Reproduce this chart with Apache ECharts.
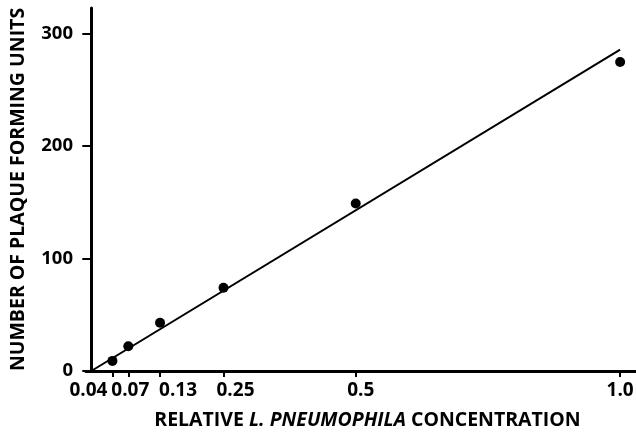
<!DOCTYPE html>
<html>
<head>
<meta charset="utf-8">
<script src="https://cdn.jsdelivr.net/npm/echarts@6/dist/echarts.min.js"></script>
<style>
html,body{margin:0;padding:0;background:#fff;}
#chart{width:636px;height:432px;}
</style>
</head>
<body>
<div id="chart"></div>
<script>
// Data
const concentration = [0.04, 0.07, 0.13, 0.25, 0.5, 1.0];
const plaqueUnits = [9, 22, 43, 74, 149, 275];
const fitX = [0, 1.0];
const fitY = [0, 286];
const xTicks = [0.04, 0.07, 0.13, 0.25, 0.5, 1.0];
const xTickLabels = ['0.04', '0.07', '0.13', '0.25', '0.5', '1.0'];
const yTicks = [0, 100, 200, 300];

// label horizontal offsets (px), styling only
const labelShift = [-24, 2, 18, 12, 5, 0];
const font = 'Open Sans';
const rich = {};
labelShift.forEach((s, i) => {
  rich['s' + i] = {
    fontFamily: font, fontWeight: 'bold', fontSize: 19, color: '#000',
    padding: s >= 0 ? [0, 0, 0, 2 * s] : [0, -2 * s, 0, 0]
  };
});

const chart = echarts.init(document.getElementById('chart'));
chart.setOption({
  animation: false,
  backgroundColor: '#fff',
  grid: { left: 86, right: 0, top: 8, bottom: 61, containLabel: false, outerBoundsMode: 'none' },
  xAxis: {
    type: 'value', min: -0.01, max: 1.03,
    axisLine: { show: true, lineStyle: { color: '#000', width: 3 } },
    axisTick: { show: true, customValues: xTicks, length: 6, lineStyle: { color: '#000', width: 2 } },
    axisLabel: {
      customValues: xTicks, margin: 10, hideOverlap: false,
      formatter: function (v) {
        const i = xTicks.indexOf(v);
        return '{s' + i + '|' + xTickLabels[i] + '}';
      },
      rich: rich
    },
    splitLine: { show: false },
    name: '{n|RELATIVE }{i|L. PNEUMOPHILA}{n| CONCENTRATION}',
    nameLocation: 'middle', nameGap: 39,
    nameTextStyle: {
      padding: [0, 0, 0, 13],
      rich: {
        n: { fontFamily: font, fontWeight: 'bold', fontSize: 19.5, color: '#000' },
        i: { fontFamily: font, fontWeight: 'bold', fontStyle: 'italic', fontSize: 19.5, color: '#000' }
      }
    }
  },
  yAxis: {
    type: 'value', min: 0, max: 323,
    axisLine: { show: true, lineStyle: { color: '#000', width: 3 } },
    axisTick: { show: true, customValues: yTicks, length: 9, lineStyle: { color: '#000', width: 2 } },
    axisLabel: { customValues: yTicks, margin: 13, fontFamily: font, fontWeight: 'bold', fontSize: 18.5, color: '#000' },
    splitLine: { show: false },
    name: 'NUMBER OF PLAQUE FORMING UNITS',
    nameLocation: 'middle', nameGap: 58,
    nameTextStyle: { fontFamily: font, fontWeight: 'bold', fontSize: 19.5, color: '#000' }
  },
  series: [
    {
      type: 'line', data: fitX.map((x, i) => [x, fitY[i]]),
      showSymbol: false, lineStyle: { color: '#000', width: 2 }, silent: true
    },
    {
      type: 'scatter', data: concentration.map((x, i) => [x, plaqueUnits[i]]),
      symbol: 'circle', symbolSize: 10, itemStyle: { color: '#000', opacity: 1 }
    }
  ]
});
</script>
</body>
</html>
